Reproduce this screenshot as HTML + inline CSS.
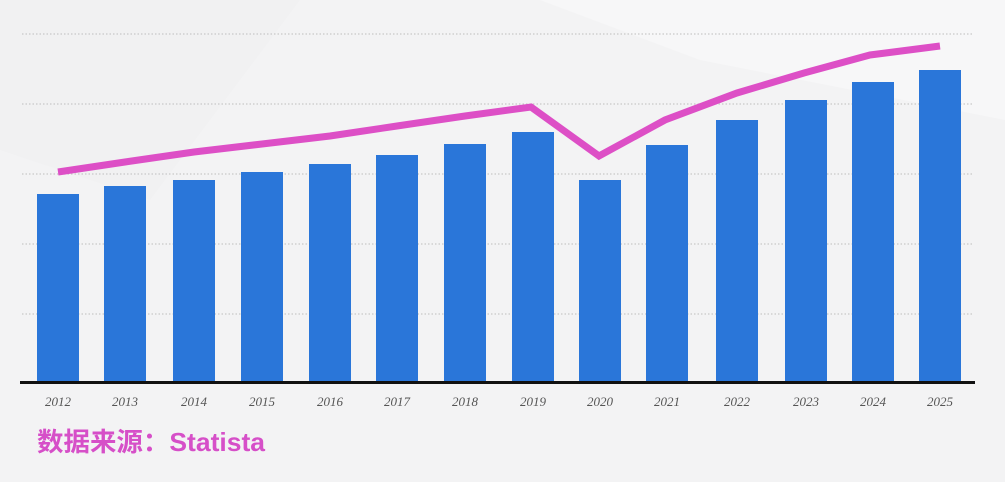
<!DOCTYPE html>
<html><head><meta charset="utf-8"><style>
body{margin:0;width:1005px;height:482px;overflow:hidden;background:#f3f3f4;}
svg{display:block}
</style></head><body>
<svg width="1005" height="482" xmlns="http://www.w3.org/2000/svg">
<rect width="1005" height="482" fill="#f3f3f4"/>
<polygon points="540,0 1005,0 1005,120 700,60" fill="#f7f7f8"/>
<polygon points="0,0 300,0 150,200 0,150" fill="#f1f1f2"/>
<g stroke="#c8c8c8" stroke-width="1.2" stroke-dasharray="1.5,2">
<line x1="22" y1="34" x2="972" y2="34"/>
<line x1="22" y1="104" x2="972" y2="104"/>
<line x1="22" y1="174" x2="972" y2="174"/>
<line x1="22" y1="244" x2="972" y2="244"/>
<line x1="22" y1="314" x2="972" y2="314"/>
</g>
<g fill="#2a76d9">
<rect x="37" y="194" width="42" height="188"/>
<rect x="104" y="186" width="42" height="196"/>
<rect x="173" y="180" width="42" height="202"/>
<rect x="241" y="172" width="42" height="210"/>
<rect x="309" y="164" width="42" height="218"/>
<rect x="376" y="155" width="42" height="227"/>
<rect x="444" y="144" width="42" height="238"/>
<rect x="512" y="132" width="42" height="250"/>
<rect x="579" y="180" width="42" height="202"/>
<rect x="646" y="145" width="42" height="237"/>
<rect x="716" y="120" width="42" height="262"/>
<rect x="785" y="100" width="42" height="282"/>
<rect x="852" y="82" width="42" height="300"/>
<rect x="919" y="70" width="42" height="312"/>
</g>
<polyline points="58,172 125,162 194,152 262,144 330,136 397,126 465,116 531,107 599,156 665,120 737,93 804,73 870,55 940,46" fill="none" stroke="#dd4fc6" stroke-width="7" stroke-linejoin="miter"/>
<rect x="20" y="381" width="955" height="3" fill="#111"/>
<g font-family="Liberation Serif, serif" font-style="italic" font-size="13" fill="#555" text-anchor="middle">
<text x="58" y="406">2012</text><text x="125" y="406">2013</text><text x="194" y="406">2014</text><text x="262" y="406">2015</text><text x="330" y="406">2016</text><text x="397" y="406">2017</text><text x="465" y="406">2018</text><text x="533" y="406">2019</text><text x="600" y="406">2020</text><text x="667" y="406">2021</text><text x="737" y="406">2022</text><text x="806" y="406">2023</text><text x="873" y="406">2024</text><text x="940" y="406">2025</text>
</g>
<text x="37" y="451" font-family="Liberation Sans, Noto Sans CJK SC, sans-serif" font-weight="bold" font-size="26" fill="#d64fc8" textLength="228" lengthAdjust="spacingAndGlyphs">数据来源：Statista</text>
</svg>
</body></html>
